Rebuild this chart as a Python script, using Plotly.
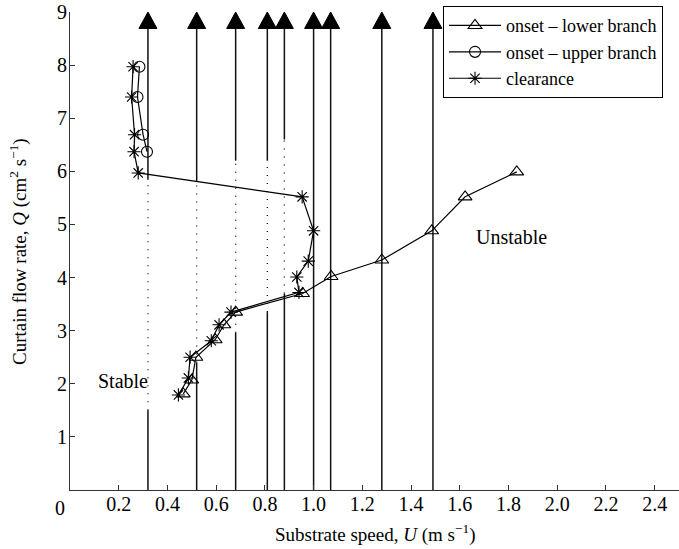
import plotly.graph_objects as go

# ---------------- data ----------------
lower_U = [1.834, 1.622, 1.485, 1.28, 1.072, 0.955, 0.68, 0.632, 0.596, 0.517, 0.50, 0.465]
lower_Q = [5.99, 5.52, 4.88, 4.33, 4.02, 3.70, 3.35, 3.11, 2.83, 2.50, 2.07, 1.81]

upper_U = [0.285, 0.277, 0.30, 0.316]
upper_Q = [7.97, 7.40, 6.69, 6.37]

clear_U = [0.259, 0.253, 0.265, 0.263, 0.28, 0.953, 1.0, 0.978, 0.931, 0.94,
           0.661, 0.612, 0.58, 0.493, 0.486, 0.445]
clear_Q = [7.97, 7.40, 6.69, 6.37, 5.97, 5.52, 4.88, 4.31, 4.01, 3.72,
           3.35, 3.11, 2.81, 2.50, 2.11, 1.79]

# vertical arrows (speeds) with the dotted interval on each
arrow_U = [0.32, 0.52, 0.68, 0.81, 0.88, 1.00, 1.07, 1.28, 1.49]
dot_lo = [1.5, 2.4, 2.96, 3.35, 3.7, None, None, None, None]
dot_hi = [5.84, 5.8, 6.2, 6.2, 6.6, None, None, None, None]
arrow_base_Q = 8.69
arrow_tip_Q = 9.0

x_tickvals = [0.2, 0.4, 0.6, 0.8, 1.0, 1.2, 1.4, 1.6, 1.8, 2.0, 2.2, 2.4]
x_ticktext = ["%.1f" % v for v in x_tickvals]
y_tickvals = [1, 2, 3, 4, 5, 6, 7, 8, 9]

FONT = "Liberation Serif"

# ---------------- build segments ----------------
solid_x, solid_y, dot_x, dot_y = [], [], [], []
head_x, head_y = [], []
half_w = 9 / 243.6  # half width of arrowhead in data units
for u, lo, hi in zip(arrow_U, dot_lo, dot_hi):
    if lo is None:
        solid_x += [u, u, None]
        solid_y += [0, arrow_base_Q, None]
    else:
        solid_x += [u, u, None, u, u, None]
        solid_y += [0, lo, None, hi, arrow_base_Q, None]
        dot_x += [u, u, None]
        dot_y += [lo, hi, None]
    head_x += [u - half_w, u + half_w, u, u - half_w, None]
    head_y += [arrow_base_Q, arrow_base_Q, arrow_tip_Q, arrow_base_Q, None]

fig = go.Figure()

fig.add_trace(go.Scatter(x=solid_x, y=solid_y, mode="lines",
                         line=dict(color="#111111", width=1.5),
                         showlegend=False, hoverinfo="skip"))
fig.add_trace(go.Scatter(x=dot_x, y=dot_y, mode="lines",
                         line=dict(color="#111111", width=1.3, dash="1px,7px"),
                         showlegend=False, hoverinfo="skip"))
fig.add_trace(go.Scatter(x=head_x, y=head_y, mode="lines", fill="toself",
                         fillcolor="black", line=dict(color="black", width=1),
                         showlegend=False, hoverinfo="skip"))

fig.add_trace(go.Scatter(x=lower_U, y=lower_Q, mode="lines+markers",
                         name="onset – lower branch",
                         line=dict(color="black", width=1.2),
                         marker=dict(symbol="triangle-up-open", size=12,
                                     color="black", line=dict(width=1.1))))
fig.add_trace(go.Scatter(x=upper_U, y=upper_Q, mode="lines+markers",
                         name="onset – upper branch",
                         line=dict(color="black", width=1.2),
                         marker=dict(symbol="circle-open", size=11,
                                     color="black", line=dict(width=1.1))))
fig.add_trace(go.Scatter(x=clear_U, y=clear_Q, mode="lines+markers",
                         name="clearance",
                         line=dict(color="black", width=1.2),
                         marker=dict(symbol="asterisk-open", size=11,
                                     color="black", line=dict(width=1.1))))

fig.update_layout(
    width=679, height=549,
    margin=dict(l=70, r=0, t=12, b=59, autoexpand=False),
    paper_bgcolor="white", plot_bgcolor="white",
    font=dict(family=FONT, size=20, color="black"),
    showlegend=True,
    legend=dict(x=0.6125, y=1.012, xanchor="left", yanchor="top",
                bordercolor="black", borderwidth=1, bgcolor="white",
                font=dict(family=FONT, size=18, color="black"),
                itemwidth=52, tracegroupgap=0),
    xaxis=dict(range=[0, 2.5], tickvals=x_tickvals, ticktext=x_ticktext,
               ticks="inside", ticklen=5, tickcolor="#333", tickwidth=1,
               showline=True, linecolor="#333", linewidth=1.2,
               showgrid=False, zeroline=False, mirror=False, automargin=False,
               ticklabelstandoff=-4,
               tickfont=dict(family=FONT, size=20)),
    yaxis=dict(range=[0, 9], tickvals=y_tickvals,
               ticks="inside", ticklen=5, tickcolor="#333", tickwidth=1,
               showline=True, linecolor="#333", linewidth=1.2,
               showgrid=False, zeroline=False, mirror=False, automargin=False,
               ticklabelstandoff=-2,
               tickfont=dict(family=FONT, size=20)),
    annotations=[
        dict(text="0", x=0, xref="x", y=0, yref="y", xshift=-10, yshift=-18,
             showarrow=False, font=dict(family=FONT, size=20)),
        dict(text="Stable", x=0.218, y=2.05, xref="x", yref="y",
             showarrow=False, font=dict(family=FONT, size=20)),
        dict(text="Unstable", x=1.813, y=4.77, xref="x", yref="y",
             showarrow=False, font=dict(family=FONT, size=20)),
        dict(text="Substrate speed, <i>U</i> (m s<sup>−1</sup>)",
             x=0.5, xref="paper", y=-0.092, yref="paper",
             xanchor="center", yanchor="middle",
             showarrow=False, font=dict(family=FONT, size=19)),
        dict(text="Curtain flow rate, <i>Q</i> (cm<sup>2</sup> s<sup>−1</sup>)",
             x=-0.0854, xref="paper", y=0.5, yref="paper", textangle=-90,
             xanchor="center", yanchor="middle",
             showarrow=False, font=dict(family=FONT, size=19)),
    ],
)

fig.write_html("out.html",
               config={"displayModeBar": False},
               post_script="document.body.style.margin='0px';document.body.style.overflow='hidden';")
